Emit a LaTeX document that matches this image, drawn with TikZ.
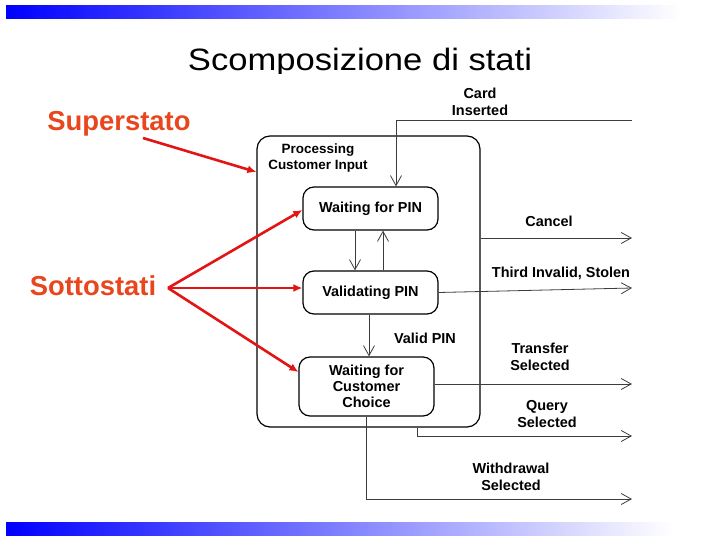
\documentclass[tikz,border=0pt]{standalone}
\usepackage{fontspec}
\setmainfont{Liberation Sans}
\usetikzlibrary{arrows.meta}
\definecolor{slideblue}{RGB}{0,0,255}
\definecolor{notered}{RGB}{232,70,28}
\definecolor{pointred}{RGB}{226,20,20}
\definecolor{wire}{RGB}{60,60,60}
\begin{document}
\begin{tikzpicture}[x=1bp,y=-1bp,
  statebox/.style={draw,line width=1.2bp,rounded corners=11bp,minimum width=135bp,
    align=center,font=\fontsize{14.5}{16}\selectfont\bfseries},
  evlabel/.style={align=center,font=\fontsize{14.5}{17}\selectfont\bfseries},
  trans/.style={draw=wire,line width=0.8bp,-{Straight Barb[length=10bp,width=11bp,line width=0.8bp]}},
  note/.style={text=notered,font=\fontsize{27.5}{30}\selectfont\bfseries},
  pointer/.style={draw=pointred,line width=2.6bp,-{Latex[length=9bp,width=8bp]}}]
\useasboundingbox (0,0) rectangle (720,540);
% slide bars
\shade[left color=slideblue,middle color=slideblue!32,right color=white] (6,6) rectangle (680,19);
\shade[left color=slideblue,middle color=slideblue!28,right color=white] (6,522) rectangle (672,535);
\begin{scope}
\clip (0,0) rectangle (720,73.5);
\node[anchor=base,xscale=1.12] (title) at (360,71) {\fontsize{31}{34}\selectfont Scomposizione di stati};
\end{scope}
% superstate and substates
\node[draw,line width=1.2bp,rounded corners=13bp,minimum width=223bp,minimum height=291bp] (outer) at (368.5,281.5) {};
\node[font=\fontsize{13.5}{16}\selectfont\bfseries,align=center] (outerlbl) at (318,158) {Processing\\Customer Input};
\node[statebox,minimum height=43bp] (wpin) at (370.5,208.5) {Waiting for PIN};
\node[statebox,minimum height=43bp] (vpin) at (370.5,292.5) {Validating PIN};
\node[statebox,minimum height=59bp] (wcc) at (366.5,386.5) {Waiting for\\Customer\\Choice};
% free ends
\coordinate (cardin) at (632,120);
\coordinate (cancelout) at (632,238);
\coordinate (stolenout) at (632,288);
\coordinate (transout) at (632,384);
\coordinate (queryout) at (632,436);
\coordinate (withdout) at (632,499);
% transitions
\draw[trans] (cardin) -- (396,120) -- (wpin.north -| 396,0);
\draw[trans] (wpin.south -| 355,0) -- (vpin.north -| 355,0);
\draw[trans] (vpin.north -| 383,0) -- (wpin.south -| 383,0);
\draw[trans] (vpin.south -| 369,0) -- (wcc.north -| 369,0);
\draw[trans] (outer.east |- cancelout) -- (cancelout);
\draw[trans] (vpin.east) -- (stolenout);
\draw[trans] (wcc.east |- transout) -- (transout);
\draw[trans] (outer.south -| 417,0) -- (417,436) -- (queryout);
\draw[trans] (wcc.south) -- (wcc.south |- withdout) -- (withdout);
% event labels
\node[evlabel] (lcard) at (480,101.5) {Card\\Inserted};
\node[evlabel] (lcancel) at (549,221) {Cancel};
\node[evlabel] (lstolen) at (561,273) {Third Invalid, Stolen};
\node[evlabel] (lvalid) at (425,338) {Valid PIN};
\node[evlabel] (ltrans) at (540,357) {Transfer\\Selected};
\node[evlabel] (lquery) at (547,414) {Query\\Selected};
\node[evlabel] (lwithd) at (511,477) {Withdrawal\\Selected};
% notes
\node[note] (super) at (119,124) {Superstato};
\node[note] (sotto) at (93,286) {Sottostati};
\coordinate (superfrom) at (143,138);
\coordinate (sottofrom) at (168,288);
\draw[pointer] (superfrom) -- (outer.west |- 0,172);
\draw[pointer] (sottofrom) -- (wpin.west |- 0,210);
\draw[pointer] (sottofrom) -- (vpin.west |- 0,288);
\draw[pointer] (sottofrom) -- (wcc.west |- 0,372);
\end{tikzpicture}
\end{document}
